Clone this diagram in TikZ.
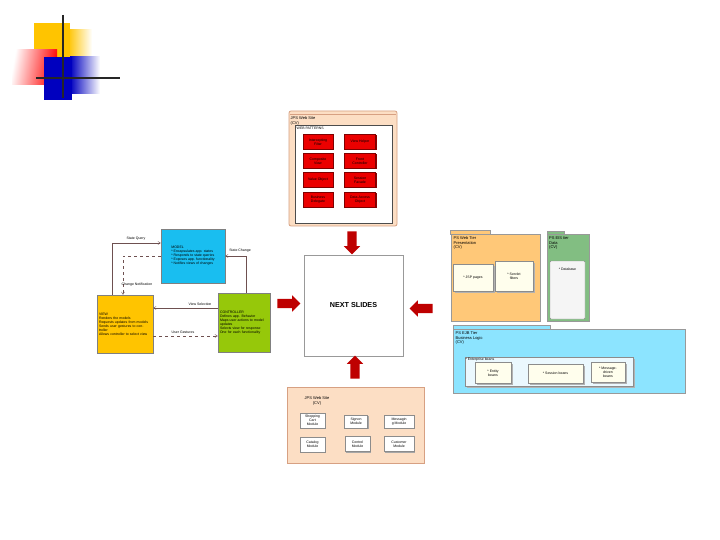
\documentclass[tikz,border=0pt]{standalone}
\usepackage{fontspec}
\setmainfont{Liberation Sans}
\usetikzlibrary{shapes.arrows,shadows,arrows.meta}

\definecolor{modelblue}{RGB}{25,190,240}
\definecolor{viewgold}{RGB}{255,196,0}
\definecolor{ctrlgreen}{RGB}{150,200,10}
\definecolor{peach}{RGB}{252,222,196}
\definecolor{peachline}{RGB}{215,160,130}
\definecolor{webtier}{RGB}{255,200,120}
\definecolor{eisgreen}{RGB}{130,190,130}
\definecolor{ejbcyan}{RGB}{140,228,255}
\definecolor{boxred}{RGB}{235,0,0}
\definecolor{arrred}{RGB}{190,0,0}
\definecolor{linebrown}{RGB}{110,80,80}

\newcommand{\tinytxt}{\fontsize{3.5}{4}\selectfont}
\newcommand{\titletxt}{\fontsize{4}{4.6}\selectfont}

\begin{document}
\begin{tikzpicture}[x=1pt,y=-1pt,
    mvc_node/.style={draw=black!50,inner sep=1.5pt,align=left,font=\tinytxt},
    red_node/.style={draw=red!50!black,fill=boxred,minimum height=15,inner sep=0.5pt,align=center,font=\tinytxt,
        copy shadow={shadow xshift=1pt,shadow yshift=-1pt,fill=red!55!black,draw=none}},
    mod_node/.style={draw=black!45,fill=white,inner sep=0.5pt,align=center,font=\tinytxt,
        copy shadow={shadow xshift=1pt,shadow yshift=-1pt,fill=black!35,draw=none}},
    bean_node/.style={draw=black!45,fill=white!93!yellow,inner sep=0.5pt,align=center,font=\tinytxt,
        copy shadow={shadow xshift=1.5pt,shadow yshift=-1.5pt,fill=black!30,draw=none}},
    big_arrow/.style={single arrow,fill=arrred,draw=none,inner xsep=0pt,inner ysep=4.5pt,minimum height=23,single arrow head extend=3.5pt},
    big_arrow_v/.style={big_arrow,inner xsep=4.5pt,inner ysep=0pt},
    link/.style={draw=linebrown,line width=0.4pt,-{Straight Barb[length=2.5pt,width=3pt]}},
    link_lbl/.style={font=\tinytxt,inner sep=0.5pt}]
    \useasboundingbox (0,0) rectangle (720,540);
    \fill[white] (0,0) rectangle (720,540);

    % corner decoration
    \fill[left color=viewgold,right color=white] (68,30) rectangle (92,62);
    \fill[viewgold] (34,23) rectangle (70,62);
    \fill[left color=white,right color=red,shading angle=80] (12,50) rectangle (57,85);
    \fill[left color=blue!75!black,right color=white] (70,57) rectangle (100,94);
    \fill[blue!75!black] (44,57) rectangle (72,100);
    \draw[line width=1.2pt,black!85] (63,15) -- (63,98);
    \draw[line width=1.2pt,black!85] (36,78) -- (120,78);

    % top package
    \node[draw=peachline,fill=peach,rounded corners=2,minimum width=108,minimum height=115,line width=0.8pt] (top_pkg) at (343,168.5) {};
    \draw[peachline,line width=0.5pt] (290,114.5) -- (396,114.5);
    \node[anchor=north west,font=\titletxt,align=left,inner sep=0.5pt] (top_title) at (290,116) {JPS Web Site\\(CV)};
    \node[draw=black!70,fill=white,minimum width=97,minimum height=98] (patterns) at (343.5,174) {};
    \node[anchor=north west,font=\tinytxt,inner sep=0.5pt] (pat_title) at (296,126.5) {WEB PATTERNS};
    \node[red_node,minimum width=30] (p1) at (318,142) {Intercepting\\Filter};
    \node[red_node,minimum width=31] (p2) at (360,142) {View Helper};
    \node[red_node,minimum width=30] (p3) at (318,161) {Composite\\View};
    \node[red_node,minimum width=31] (p4) at (360,161) {Front\\Controller};
    \node[red_node,minimum width=30] (p5) at (318,180) {Value Object};
    \node[red_node,minimum width=31] (p6) at (360,180) {Session\\Facade};
    \node[red_node,minimum width=30] (p7) at (318,200) {Business\\Delegate};
    \node[red_node,minimum width=31] (p8) at (360,200) {Data Access\\Object};

    % center
    \node[draw=black!40,fill=white,minimum width=99,minimum height=101,font=\fontsize{7.2}{8}\selectfont\bfseries,
        copy shadow={shadow xshift=0.8pt,shadow yshift=-1.2pt,fill=black!40,draw=none}] (next) at (353.5,305.5) {NEXT SLIDES};
    \node[big_arrow_v,shape border rotate=270] (a_top) at (352,240.5) {};
    \node[big_arrow,shape border rotate=0] (a_left) at (286.5,303.5) {};
    \node[big_arrow,shape border rotate=180] (a_right) at (423.5,308.5) {};
    \node[big_arrow_v,shape border rotate=90] (a_bot) at (355,369.5) {};

    % MVC
    \node[mvc_node,fill=modelblue,minimum width=64,minimum height=54] (model) at (193,256)
        {MODEL\\* Encapsulates app. states\\* Responds to state queries\\* Exposes app. functionality\\* Notifies views of changes};
    \node[mvc_node,fill=viewgold,minimum width=56,minimum height=58,text width=52] (view) at (125,324)
        {VIEW\\* Renders the models\\* Requests updates from models\\* Sends user gestures to controller\\* Allows controller to select view};
    \node[mvc_node,fill=ctrlgreen,minimum width=52,minimum height=59,text width=48] (ctrl) at (244,322.5)
        {CONTROLLER\\* Defines app. Behavior\\* Maps user actions to model updates\\* Selects view for response\\* One for each functionality};
    \coordinate (sq) at (112,243);
    \coordinate (cn) at (123,256);
    \coordinate (sc) at (246,256);
    \coordinate (vs) at (0,308);
    \coordinate (ug) at (0,336);
    \draw[link] (view.north -| sq) -- (sq) -- (model.west |- sq);
    \draw[link,dashed] (model.west |- cn) -- (cn) -- (view.north -| cn);
    \draw[link] (ctrl.north -| sc) -- (sc) -- (model.east |- sc);
    \draw[link] (ctrl.west |- vs) -- (view.east |- vs);
    \draw[link,dashed] (view.east |- ug) -- (ctrl.west |- ug);
    \node[link_lbl] (sq_lbl) at (136,239) {State Query};
    \node[link_lbl] (cn_lbl) at (137,285) {Change Notification};
    \node[link_lbl] (sc_lbl) at (240,251) {State Change};
    \node[link_lbl] (vs_lbl) at (200,304.5) {View Selection};
    \node[link_lbl] (ug_lbl) at (183,332) {User Gestures};

    % web tier
    \draw[black!40,fill=webtier] (450,230) rectangle (490,234);
    \node[draw=black!40,fill=webtier,minimum width=89,minimum height=87] (web_pkg) at (495.5,277.5) {};
    \node[anchor=north west,font=\titletxt,align=left,inner sep=0.5pt] (web_title) at (453,236) {PS Web Tier\\Presentation\\(CV)};
    \node[bean_node,minimum width=40,minimum height=27] (jsp) at (473,277.5) {* JSP pages};
    \node[bean_node,minimum width=38,minimum height=30] (servlet) at (514,276) {* Servlet\\filters};

    % eis tier
    \draw[black!40,fill=eisgreen] (547,231) rectangle (564,234);
    \node[draw=black!40,fill=eisgreen,minimum width=42,minimum height=87] (eis_pkg) at (568,277.5) {};
    \node[anchor=north west,font=\titletxt,align=left,inner sep=0.5pt] (eis_title) at (548.5,236) {PS EIS tier\\Data\\(CV)};
    \node[draw=black!45,fill=black!4,rounded corners=1,minimum width=35,minimum height=58,
        label={[font=\tinytxt,label distance=-13pt]north:* Database}] (db) at (567.5,290) {};

    % ejb tier
    \draw[black!40,fill=ejbcyan] (453,325) rectangle (550,329);
    \node[draw=black!40,fill=ejbcyan,minimum width=232,minimum height=64] (ejb_pkg) at (569,361) {};
    \node[anchor=north west,font=\titletxt,align=left,inner sep=0.5pt] (ejb_title) at (455,331) {PS EJB Tier\\Business Logic\\(CV)};
    \node[bean_node,fill=cyan!8,minimum width=168,minimum height=29,
        label={[font=\tinytxt,anchor=north west,inner sep=0.5pt]north west:* Enterprise beans}] (ent) at (549,371.5) {};
    \node[bean_node,minimum width=36,minimum height=21] (entity) at (493,373) {* Entity\\beans};
    \node[bean_node,minimum width=55,minimum height=19] (session) at (555.5,373.5) {* Session beans};
    \node[bean_node,minimum width=34,minimum height=20] (msg) at (608,372) {* Message-\\driven\\beans};

    % bottom package
    \node[draw=peachline,fill=peach,minimum width=137,minimum height=76] (bot_pkg) at (355.5,425) {};
    \node[font=\titletxt,align=center,inner sep=0.5pt] (bot_title) at (317,401) {JPS Web Site\\(CV)};
    \node[mod_node,minimum width=25,minimum height=15] (m1) at (312.5,420.5) {Shopping\\Cart\\Module};
    \node[mod_node,minimum width=23,minimum height=13] (m2) at (356,421.5) {Signon\\Module};
    \node[mod_node,minimum width=30,minimum height=13] (m3) at (399,421.5) {Messagin\\g Module};
    \node[mod_node,minimum width=25,minimum height=15] (m4) at (312.5,444.5) {Catalog\\Module};
    \node[mod_node,minimum width=25,minimum height=15] (m5) at (357.5,444) {Control\\Module};
    \node[mod_node,minimum width=30,minimum height=15] (m6) at (399,444) {Customer\\Module};
\end{tikzpicture}
\end{document}
